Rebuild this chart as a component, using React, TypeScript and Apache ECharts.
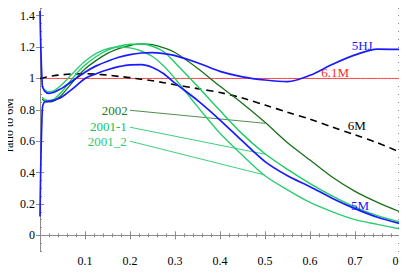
import React, { useEffect, useRef } from "react";
import * as echarts from "echarts";

const X = [0, 0.005, 0.01, 0.02, 0.03, 0.04, 0.05, 0.075, 0.1, 0.125, 0.15, 0.175, 0.2, 0.225, 0.25, 0.275, 0.3, 0.35, 0.4, 0.45, 0.5, 0.55, 0.6, 0.65, 0.7, 0.75, 0.8];
const Y_5HJ = [1.43, 0.96, 0.92, 0.905, 0.91, 0.925, 0.94, 0.99, 1.04, 1.08, 1.11, 1.135, 1.152, 1.162, 1.165, 1.158, 1.145, 1.1, 1.045, 1.01, 0.99, 0.98, 1.02, 1.09, 1.15, 1.187, 1.185];
const Y_5M = [0.12, 0.8, 0.85, 0.855, 0.86, 0.87, 0.885, 0.94, 1.0, 1.03, 1.055, 1.075, 1.087, 1.088, 1.07, 1.03, 0.97, 0.86, 0.735, 0.6, 0.47, 0.38, 0.31, 0.235, 0.17, 0.115, 0.075];
const Y_6M = [1.0, 1.003, 1.006, 1.012, 1.017, 1.021, 1.024, 1.029, 1.03, 1.027, 1.021, 1.013, 1.005, 0.995, 0.985, 0.973, 0.96, 0.935, 0.91, 0.875, 0.83, 0.785, 0.74, 0.69, 0.64, 0.59, 0.53];
const Y_61M = X.map(() => 1);
const Y_2002 = [null, 0.87, 0.855, 0.85, 0.855, 0.875, 0.9, 0.985, 1.06, 1.115, 1.16, 1.19, 1.21, 1.22, 1.215, 1.195, 1.165, 1.065, 0.95, 0.84, 0.72, 0.59, 0.48, 0.37, 0.28, 0.21, 0.15];
const Y_2001_1 = [null, 0.88, 0.865, 0.86, 0.865, 0.89, 0.92, 1.01, 1.085, 1.14, 1.18, 1.205, 1.218, 1.22, 1.205, 1.17, 1.1, 0.95, 0.795, 0.645, 0.52, 0.42, 0.33, 0.25, 0.18, 0.125, 0.085];
const Y_2001_2 = [null, 0.95, 0.93, 0.915, 0.92, 0.94, 0.965, 1.04, 1.11, 1.16, 1.19, 1.2, 1.195, 1.175, 1.14, 1.08, 1.0, 0.82, 0.65, 0.51, 0.38, 0.29, 0.21, 0.15, 0.1, 0.07, 0.04];

const Y_MAJOR = [0, 0.2, 0.4, 0.6, 0.8, 1, 1.2, 1.4];
const X_TITLE = "x";
const Y_TITLE = "ratio to 6M";

// curve labels: [text, x, y, align, color]
const LABELS: [string, number, number, string, string][] = [
  ["5HJ", 0.716, 1.21, "center", "#1a1aff"],
  ["6.1M", 0.656, 1.04, "center", "#ff2a2a"],
  ["6M", 0.704, 0.7, "center", "#000000"],
  ["5M", 0.711, 0.19, "center", "#1a1aff"],
  ["2002", 0.195, 0.797, "right", "#1f7a1f"],
  ["2001-1", 0.193, 0.695, "right", "#12c455"],
  ["2001_2", 0.193, 0.6, "right", "#2ccc70"],
];
// leader lines: [x1, y1, x2, y2, color]
const LEADERS: [number, number, number, number, string][] = [
  [0.2, 0.797, 0.5, 0.714, "#4f8f4f"],
  [0.2, 0.689, 0.5, 0.517, "#3fd07a"],
  [0.2, 0.6, 0.5, 0.384, "#3fd07a"],
];

const FONT = "'Liberation Serif', 'Times New Roman', serif";

const pairs = (ys: (number | null)[]) => X.map((x, i) => [x, ys[i]]);

export default function App() {
  const ref = useRef<HTMLDivElement>(null);
  useEffect(() => {
    if (!ref.current) return;
    const chart = echarts.init(ref.current, undefined, { renderer: "svg" });
    const frame = { show: true, lineStyle: { color: "#8c8c8c", width: 1 } };
    const tickStyle = { color: "#8c8c8c", width: 1 };
    const line = (name: string, ys: (number | null)[], color: string, width: number, dash?: any, z = 2) => ({
      type: "line",
      name,
      data: pairs(ys),
      showSymbol: false,
      symbol: "none",
      smooth: 0.3,
      connectNulls: false,
      z,
      lineStyle: { color, width, type: dash || "solid" },
    });
    const option: any = {
      animation: false,
      grid: { left: 40, right: 7, top: 0, bottom: 29, containLabel: false, outerBoundsMode: "none" },
      xAxis: [
        {
          type: "value",
          min: 0,
          max: 0.8,
          interval: 0.1,
          position: "bottom",
          axisLine: frame,
          axisTick: { inside: true, length: 4, lineStyle: tickStyle },
          minorTick: { show: true, splitNumber: 5, length: 2, lineStyle: tickStyle },
          axisLabel: {
            margin: 4,
            fontFamily: FONT,
            fontSize: 12,
            lineHeight: 12,
            color: "#000",
            formatter: (v: number) => (v === 0 ? "" : String(Math.round(v * 10) / 10)),
          },
          splitLine: { show: false },
        },
        {
          type: "value",
          min: 0,
          max: 0.8,
          interval: 0.1,
          position: "top",
          axisLine: frame,
          axisTick: { inside: true, length: 4, lineStyle: tickStyle },
          minorTick: { show: true, splitNumber: 5, length: 2, lineStyle: tickStyle },
          axisLabel: { show: false },
          splitLine: { show: false },
        },
      ],
      yAxis: [
        {
          type: "value",
          min: -0.1,
          max: 1.5,
          position: "left",
          axisLine: frame,
          axisTick: { inside: true, length: 4, lineStyle: tickStyle, customValues: Y_MAJOR },
          axisLabel: { margin: 5, fontFamily: FONT, fontSize: 12, color: "#000", customValues: Y_MAJOR },
          splitLine: { show: false },
        },
        {
          type: "value",
          min: -0.1,
          max: 1.5,
          position: "right",
          axisLine: frame,
          axisTick: { inside: true, length: 4, lineStyle: tickStyle, customValues: Y_MAJOR },
          axisLabel: { show: false },
          splitLine: { show: false },
        },
        {
          type: "value",
          min: -0.1,
          max: 1.5,
          interval: 0.05,
          position: "left",
          axisLine: { show: false },
          axisTick: { inside: true, length: 2, lineStyle: tickStyle },
          axisLabel: { show: false },
          splitLine: { show: false },
        },
        {
          type: "value",
          min: -0.1,
          max: 1.5,
          interval: 0.05,
          position: "right",
          axisLine: { show: false },
          axisTick: { inside: true, length: 2, lineStyle: tickStyle },
          axisLabel: { show: false },
          splitLine: { show: false },
        },
      ],
      series: [
        line("6.1M", Y_61M, "#ff4040", 1, undefined, 1),
        line("6M", Y_6M, "#000000", 1.6, [7, 5], 2),
        line("2002", Y_2002, "#1a701a", 1.3),
        line("2001-1", Y_2001_1, "#1ccc66", 1.4),
        line("2001_2", Y_2001_2, "#2dcc72", 1.4),
        line("5M", Y_5M, "#1a1aff", 1.7, undefined, 3),
        line("5HJ", Y_5HJ, "#1a1aff", 1.7, undefined, 3),
      ],
    };
    chart.setOption(option);
    const px = (x: number, y: number) => chart.convertToPixel({ xAxisIndex: 0, yAxisIndex: 0 }, [x, y]) as number[];
    const graphic: any[] = [];
    LEADERS.forEach(([x1, y1, x2, y2, c]) => {
      const a = px(x1, y1);
      const b = px(x2, y2);
      graphic.push({
        type: "line",
        shape: { x1: a[0], y1: a[1], x2: b[0], y2: b[1] },
        style: { stroke: c, lineWidth: 1 },
        z: 1,
      });
    });
    LABELS.forEach(([t, x, y, align, c]) => {
      const p = px(x, y);
      graphic.push({
        type: "text",
        x: p[0],
        y: p[1],
        style: { text: t, fill: c, fontFamily: FONT, fontSize: 13, align, verticalAlign: "middle" },
        z: 10,
      });
    });
    // axis titles
    graphic.push({
      type: "text",
      x: 220,
      y: 273,
      style: { text: X_TITLE, fill: "#000", fontFamily: FONT, fontSize: 13, align: "center", verticalAlign: "middle" },
      z: 10,
    });
    graphic.push({
      type: "text",
      x: 9,
      y: 125,
      rotation: Math.PI / 2,
      style: { text: Y_TITLE, fill: "#000", fontFamily: FONT, fontSize: 12, align: "center", verticalAlign: "middle" },
      z: 10,
    });
    chart.setOption({ graphic });
    return () => chart.dispose();
  }, []);
  return <div ref={ref} style={{ width: 407, height: 280, margin: -8 }} />;
}
